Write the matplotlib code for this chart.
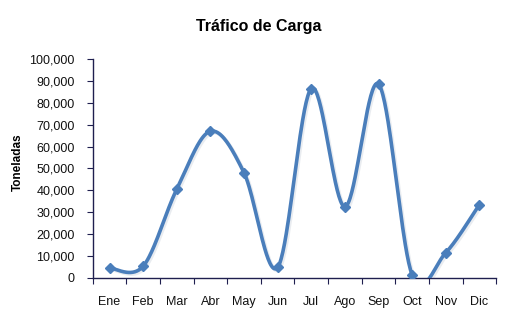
import numpy as np
import matplotlib.pyplot as plt
import matplotlib.patheffects as pe
from matplotlib.ticker import FuncFormatter, FixedLocator

meses = ['Ene', 'Feb', 'Mar', 'Abr', 'May', 'Jun', 'Jul', 'Ago', 'Sep', 'Oct', 'Nov', 'Dic']
toneladas = [4500, 5300, 40500, 67000, 48000, 4800, 86500, 32500, 88500, 1300, 11500, 33500]

plt.rcParams['font.family'] = ['Liberation Sans', 'DejaVu Sans']
azul = '#4a7ebb'
eje = '#1f1f4f'


def suavizar(x, y, n=40):
    # curva tipo Excel: bezier con puntos de control de Catmull-Rom
    x = np.asarray(x, float)
    y = np.asarray(y, float)
    px = np.concatenate([[x[0]], x, [x[-1]]])
    py = np.concatenate([[y[0]], y, [y[-1]]])
    xs, ys = [], []
    t = np.linspace(0, 1, n)
    for i in range(1, len(px) - 2):
        p0 = np.array([px[i], py[i]])
        p3 = np.array([px[i + 1], py[i + 1]])
        p1 = p0 + (np.array([px[i + 1], py[i + 1]]) - np.array([px[i - 1], py[i - 1]])) / 6
        p2 = p3 - (np.array([px[i + 2], py[i + 2]]) - np.array([px[i], py[i]])) / 6
        b = ((1 - t) ** 3)[:, None] * p0 + (3 * (1 - t) ** 2 * t)[:, None] * p1 \
            + (3 * (1 - t) * t ** 2)[:, None] * p2 + (t ** 3)[:, None] * p3
        xs.extend(b[:, 0])
        ys.extend(b[:, 1])
    return np.array(xs), np.array(ys)


fig = plt.figure(figsize=(5.18, 3.28), dpi=100)
ax = fig.add_axes([0.179, 0.153, 0.779, 0.667])

pos = np.arange(len(meses)) + 0.5
cx, cy = suavizar(pos, toneladas)
sombra = [pe.SimpleLineShadow(offset=(1.2, -1.2), alpha=0.18, shadow_color='#8a9ab0'), pe.Normal()]
ax.plot(cx, cy, color=azul, lw=2.6, solid_capstyle='round', path_effects=sombra, zorder=3)
ax.plot(pos, toneladas, ls='none', marker='D', ms=5.5, color=azul, mec=azul, zorder=4)

ax.set_xlim(0, len(meses))
ax.set_ylim(0, 100000)
ax.set_yticks(np.arange(0, 100001, 10000))
ax.yaxis.set_major_formatter(FuncFormatter(lambda v, p: f'{int(v):,}'))
ax.xaxis.set_major_locator(FixedLocator(np.arange(0, len(meses) + 1)))
ax.xaxis.set_minor_locator(FixedLocator(pos))
ax.set_xticklabels([], minor=False)
ax.set_xticklabels(meses, minor=True)

for s in ['top', 'right']:
    ax.spines[s].set_visible(False)
for s in ['left', 'bottom']:
    ax.spines[s].set_color(eje)
    ax.spines[s].set_linewidth(1.0)

ax.tick_params(axis='y', which='major', direction='out', length=4, color=eje, pad=9, labelsize=9, labelcolor='#111111')
ax.tick_params(axis='x', which='major', direction='out', length=4, color=eje)
ax.tick_params(axis='x', which='minor', length=0, pad=13, labelsize=9, labelcolor='#111111')

ax.set_ylabel('Toneladas', fontsize=8.5, fontweight='bold')
ax.yaxis.set_label_coords(-0.17, 0.53)
fig.text(0.5, 0.92, 'Tráfico de Carga', ha='center', va='center', fontsize=11.5, fontweight='bold')

plt.savefig('out.png', dpi=100)
